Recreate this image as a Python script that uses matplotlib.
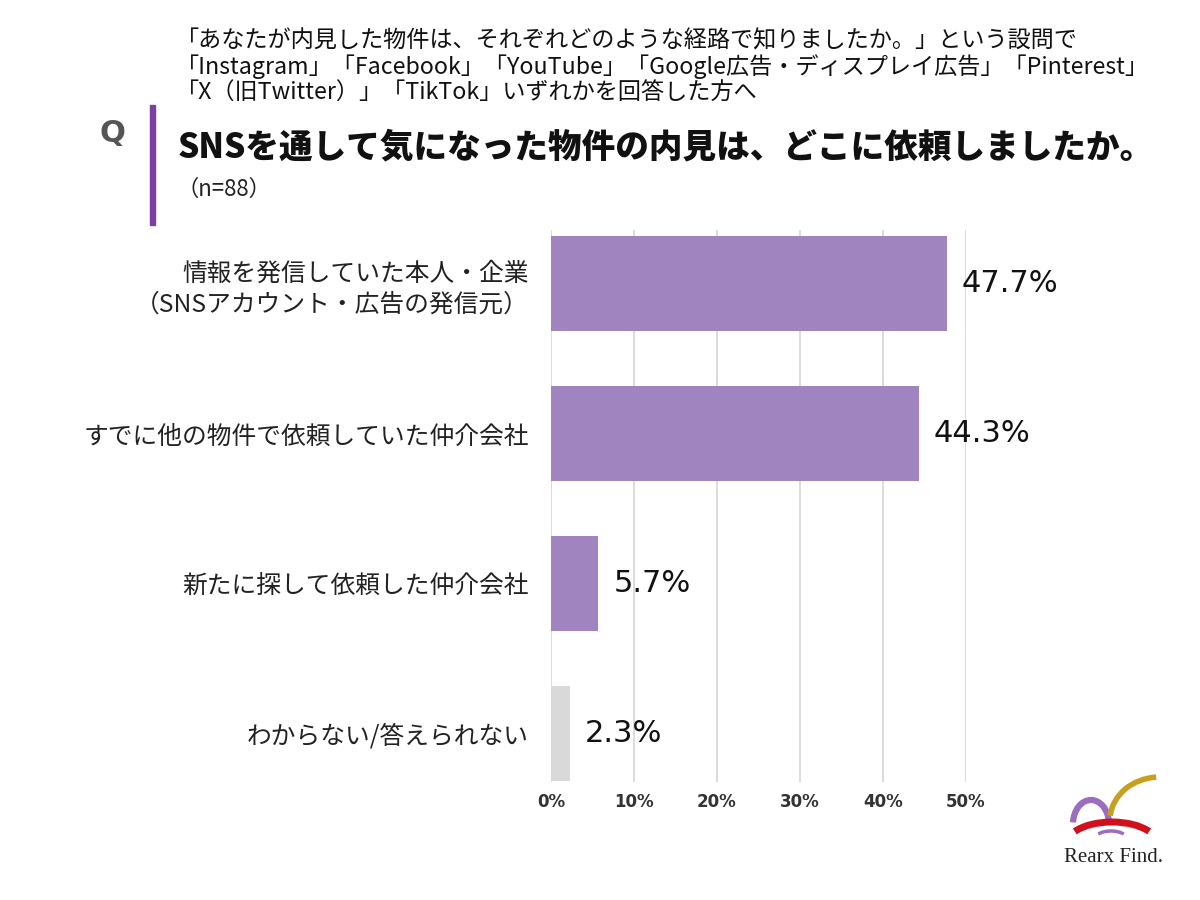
import matplotlib
matplotlib.use("Agg")
import matplotlib.pyplot as plt
from matplotlib.patches import Arc, Rectangle

plt.rcParams['font.family'] = ['Noto Sans CJK JP', 'DejaVu Sans']

categories = ["情報を発信していた本人・企業\n（SNSアカウント・広告の発信元）",
              "すでに他の物件で依頼していた仲介会社",
              "新たに探して依頼した仲介会社",
              "わからない/答えられない"]
values = [47.7, 44.3, 5.7, 2.3]
colors = ["#a084c0", "#a084c0", "#a084c0", "#d9d9d9"]
xticks = [0, 10, 20, 30, 40, 50]
xtick_labels = ["0%", "10%", "20%", "30%", "40%", "50%"]

header = ["「あなたが内見した物件は、それぞれどのような経路で知りましたか。」という設問で",
          "「Instagram」「Facebook」「YouTube」「Google広告・ディスプレイ広告」「Pinterest」",
          "「X（旧Twitter）」「TikTok」いずれかを回答した方へ"]
title = "SNSを通して気になった物件の内見は、どこに依頼しましたか。"
note = "（n=88）"

fig = plt.figure(figsize=(12, 9), dpi=100)
fig.patch.set_facecolor("white")

ax = fig.add_axes([551/1200, 1-782/900, (966-551)/1200, (782-230)/900])
y = list(range(len(categories)))
ax.barh(y, values, height=0.63, color=colors, zorder=3)
ax.set_ylim(3.323, -0.357)
ax.set_xlim(0, 50)
ax.set_xticks(xticks)
ax.set_xticklabels(xtick_labels, fontsize=12, fontweight="bold", color="#333333",
                   family="DejaVu Sans")
ax.set_yticks(y)
ax.set_yticklabels(categories, fontsize=17.8, color="#222222", ha="right",
                   multialignment="right", linespacing=1.25)
ax.tick_params(axis="both", length=0)
ax.tick_params(axis="y", pad=16)
ax.tick_params(axis="x", pad=8)
ax.xaxis.grid(True, color="#d6d6d6", linewidth=1.2, zorder=0)
for s in ax.spines.values():
    s.set_visible(False)

for yi, v in zip(y, values):
    ax.text(v + 1.8, yi, f"{v:.1f}%", va="center", ha="left", fontsize=22,
            color="#111111", family="DejaVu Sans", clip_on=False)

# header block
for i, line in enumerate(header):
    fig.text(176/1200, 1-(41 + 26*i)/900, line, fontsize=16.7, va="center",
             color="#111111")
fig.text(112/1200, 1-133/900, "Q", fontsize=22, fontweight="bold", color="#555555",
         va="center", ha="center", family="DejaVu Sans")
fig.add_artist(Rectangle((150/1200, 1-225/900), 5/1200, 120/900,
                         transform=fig.transFigure, color="#7b3fa0"))
fig.text(178/1200, 1-147/900, title, fontsize=24.2, fontweight="black", va="center",
         color="#111111")
fig.text(176/1200, 1-189/900, note, fontsize=16, va="center", color="#222222")

# logo (pixel coordinates, y measured from bottom)
lax = fig.add_axes([1040/1200, 0, 160/1200, 140/900])
lax.set_xlim(1040, 1200)
lax.set_ylim(0, 140)
lax.axis("off")
lax.add_patch(Arc((1091, 76), 36, 48, theta1=5, theta2=175, color="#9b6cc0", lw=4.5))
lax.add_patch(Arc((1160, 80), 100, 86, theta1=95, theta2=175, color="#c8a020", lw=4))
lax.add_patch(Arc((1112, 55), 92, 46, theta1=20, theta2=160, color="#d0101c", lw=5))
lax.add_patch(Arc((1111, 60), 34, 18, theta1=25, theta2=155, color="#9b6cc0", lw=2.5))
fig.text(1114/1200, 1-858/900, "Rearx Find.", fontsize=15, family="Liberation Serif",
         ha="center", va="center", color="#222222")

fig.savefig("out.png", dpi=100, facecolor="white")
